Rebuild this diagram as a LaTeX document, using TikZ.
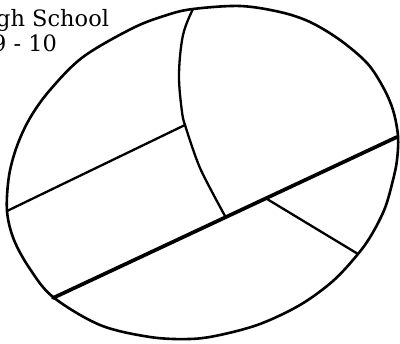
\documentclass[tikz,border=0pt]{standalone}
\usepackage{fontspec}
\setmainfont{DejaVu Serif}
\begin{document}
\begin{tikzpicture}[
    x=1pt, % one unit is one pixel of the sketch
    y=-1pt, % y runs downwards, as in the sketch
    outline/.style={line width=2.6pt, line join=round},
    divider/.style={line width=2.3pt, line cap=round},
    main divider/.style={line width=3.7pt, line cap=round},
    every node/.style={font=\fontsize{22.5}{27}\selectfont, inner sep=0pt}
    ]

% --- Frame ---
\useasboundingbox (0,0) rectangle (400,344);
\clip (0,0) rectangle (400,344);

% --- Define data ---
\def\rimPoints{(193,9) (240,6) (280,12) (310,22) (340,40) (367,63) (383,87)
  (393,110) (398,136) (397,160) (393,180) (385,208) (372,234) (358,254)
  (333,281) (300,305) (260,324) (220,335) (190,339) (150,337) (100,325)
  (53,297) (30,269) (14,240) (7,211) (9,176) (17,146) (30,118) (50,90)
  (83,57) (133,28) (167,15)}

% --- Junctions on the rim ---
\coordinate (rimTop) at (193,9);
\coordinate (rimLeft) at (7,211);
\coordinate (rimLowLeft) at (53,298);
\coordinate (rimRight) at (397,137);
\coordinate (rimLowRight) at (358,254);

% --- Inner junctions ---
\coordinate (midKnee) at (185,125);
\coordinate (midFoot) at (225,216);
\coordinate (rightFoot) at (267,199);

% --- Labels ---
\node[anchor=base west] (school) at (-4,27) {gh School};
\node[anchor=base west] (grades) at (-8,52) {9 - 10};

% --- Rim ---
\draw[outline] plot[smooth cycle, tension=0.55] coordinates {\rimPoints};

% --- Dividers ---
\draw[divider] plot[smooth, tension=0.6] coordinates
  {(rimTop) (183,35) (179,75) (182,112) (midKnee)};
\draw[divider] plot[smooth, tension=0.5] coordinates
  {(midKnee) (200,168) (midFoot)};
\draw[divider] (rimLeft) -- (midKnee);
\draw[main divider] (rimLowLeft) -- (rimRight);
\draw[divider] (rightFoot) -- (rimLowRight);

\end{tikzpicture}
\end{document}
